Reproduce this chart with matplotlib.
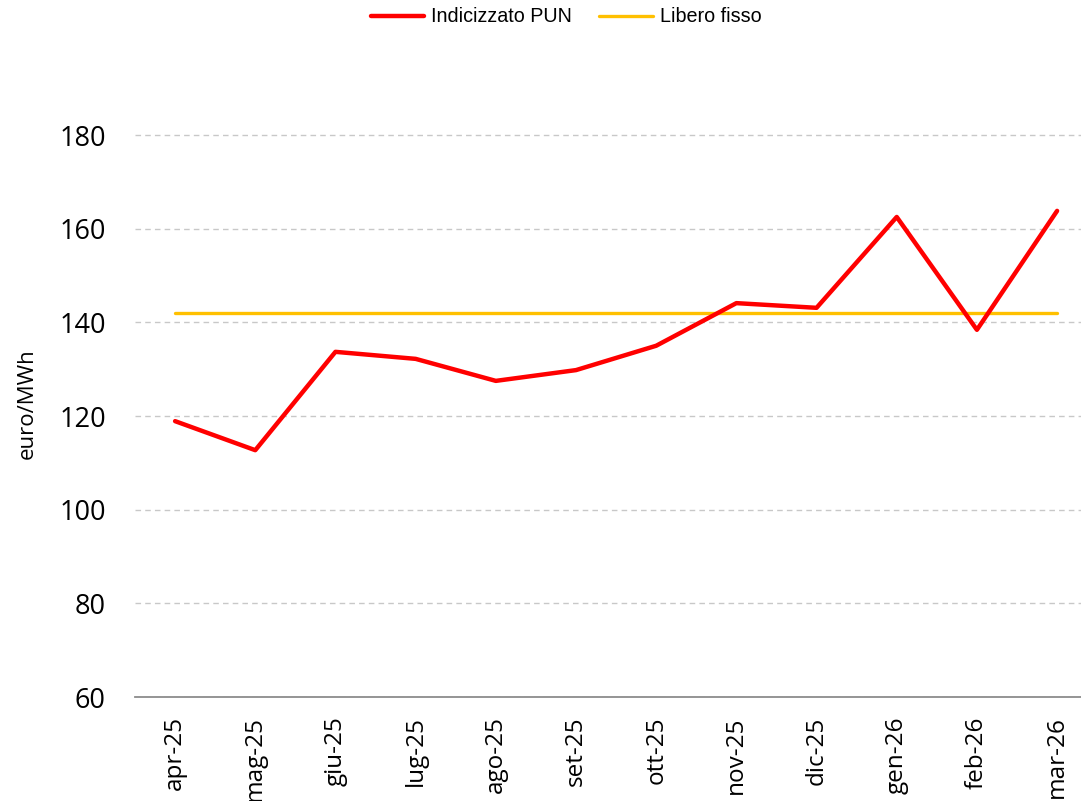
import matplotlib
matplotlib.use("Agg")
import matplotlib.pyplot as plt

months = ["apr-25", "mag-25", "giu-25", "lug-25", "ago-25", "set-25",
          "ott-25", "nov-25", "dic-25", "gen-26", "feb-26", "mar-26"]
pun = [118.9, 112.7, 133.7, 132.2, 127.5, 129.8, 135.0, 144.1, 143.1, 162.5, 138.4, 163.8]
fisso = [142.0] * 12

W, H = 1081, 801
fig = plt.figure(figsize=(W / 100, H / 100), dpi=100)
left, right, bottom = 135, 1081, 697
top_val = 190
ppu = (697 - 135) / 120.0
top_px = 697 - (top_val - 60) * ppu
ax = fig.add_axes([left / W, (H - bottom) / H, (right - left) / W, (bottom - top_px) / H])

x = list(range(len(months)))
ax.plot(x, pun, color="#FF0000", lw=3.2, solid_capstyle="round", label="Indicizzato PUN", zorder=3)
ax.plot(x, fisso, color="#FFC000", lw=2.4, solid_capstyle="round", label="Libero fisso", zorder=2)

ax.set_ylim(60, top_val)
spacing = (1057 - 175) / 11.0
ax.set_xlim(-0.5, -0.5 + (right - left) / spacing)
ax.set_yticks([60, 80, 100, 120, 140, 160, 180])
ax.set_xticks(x)
ax.set_xticklabels(months, rotation=90, fontsize=17.5, family="Open Sans", va="top")
for lab in ax.get_yticklabels():
    lab.set_family("Open Sans")
    lab.set_fontsize(19.5)
ax.tick_params(axis="both", length=0)
ax.tick_params(axis="y", pad=21)
ax.tick_params(axis="x", pad=14)
ax.grid(axis="y", color="#c8c8c8", linestyle=(0, (4, 3)), lw=1.0)
ax.set_axisbelow(True)
for s in ["top", "right", "left"]:
    ax.spines[s].set_visible(False)
ax.spines["bottom"].set_color("#8c8c8c")
ax.spines["bottom"].set_linewidth(1.3)
ax.spines["bottom"].set_zorder(1)

fig.text(27 / W, 1 - 404 / H, "euro/MWh", rotation=90, ha="center", va="center",
         fontsize=16, family="Open Sans")

fig.legend(loc="center", bbox_to_anchor=(566 / W, 1 - 17 / H), ncol=2, frameon=False,
           prop={"family": "Liberation Sans", "size": 14.2}, handlelength=2.7,
           columnspacing=1.4, handletextpad=0.35)

fig.savefig("out.png", dpi=100)
